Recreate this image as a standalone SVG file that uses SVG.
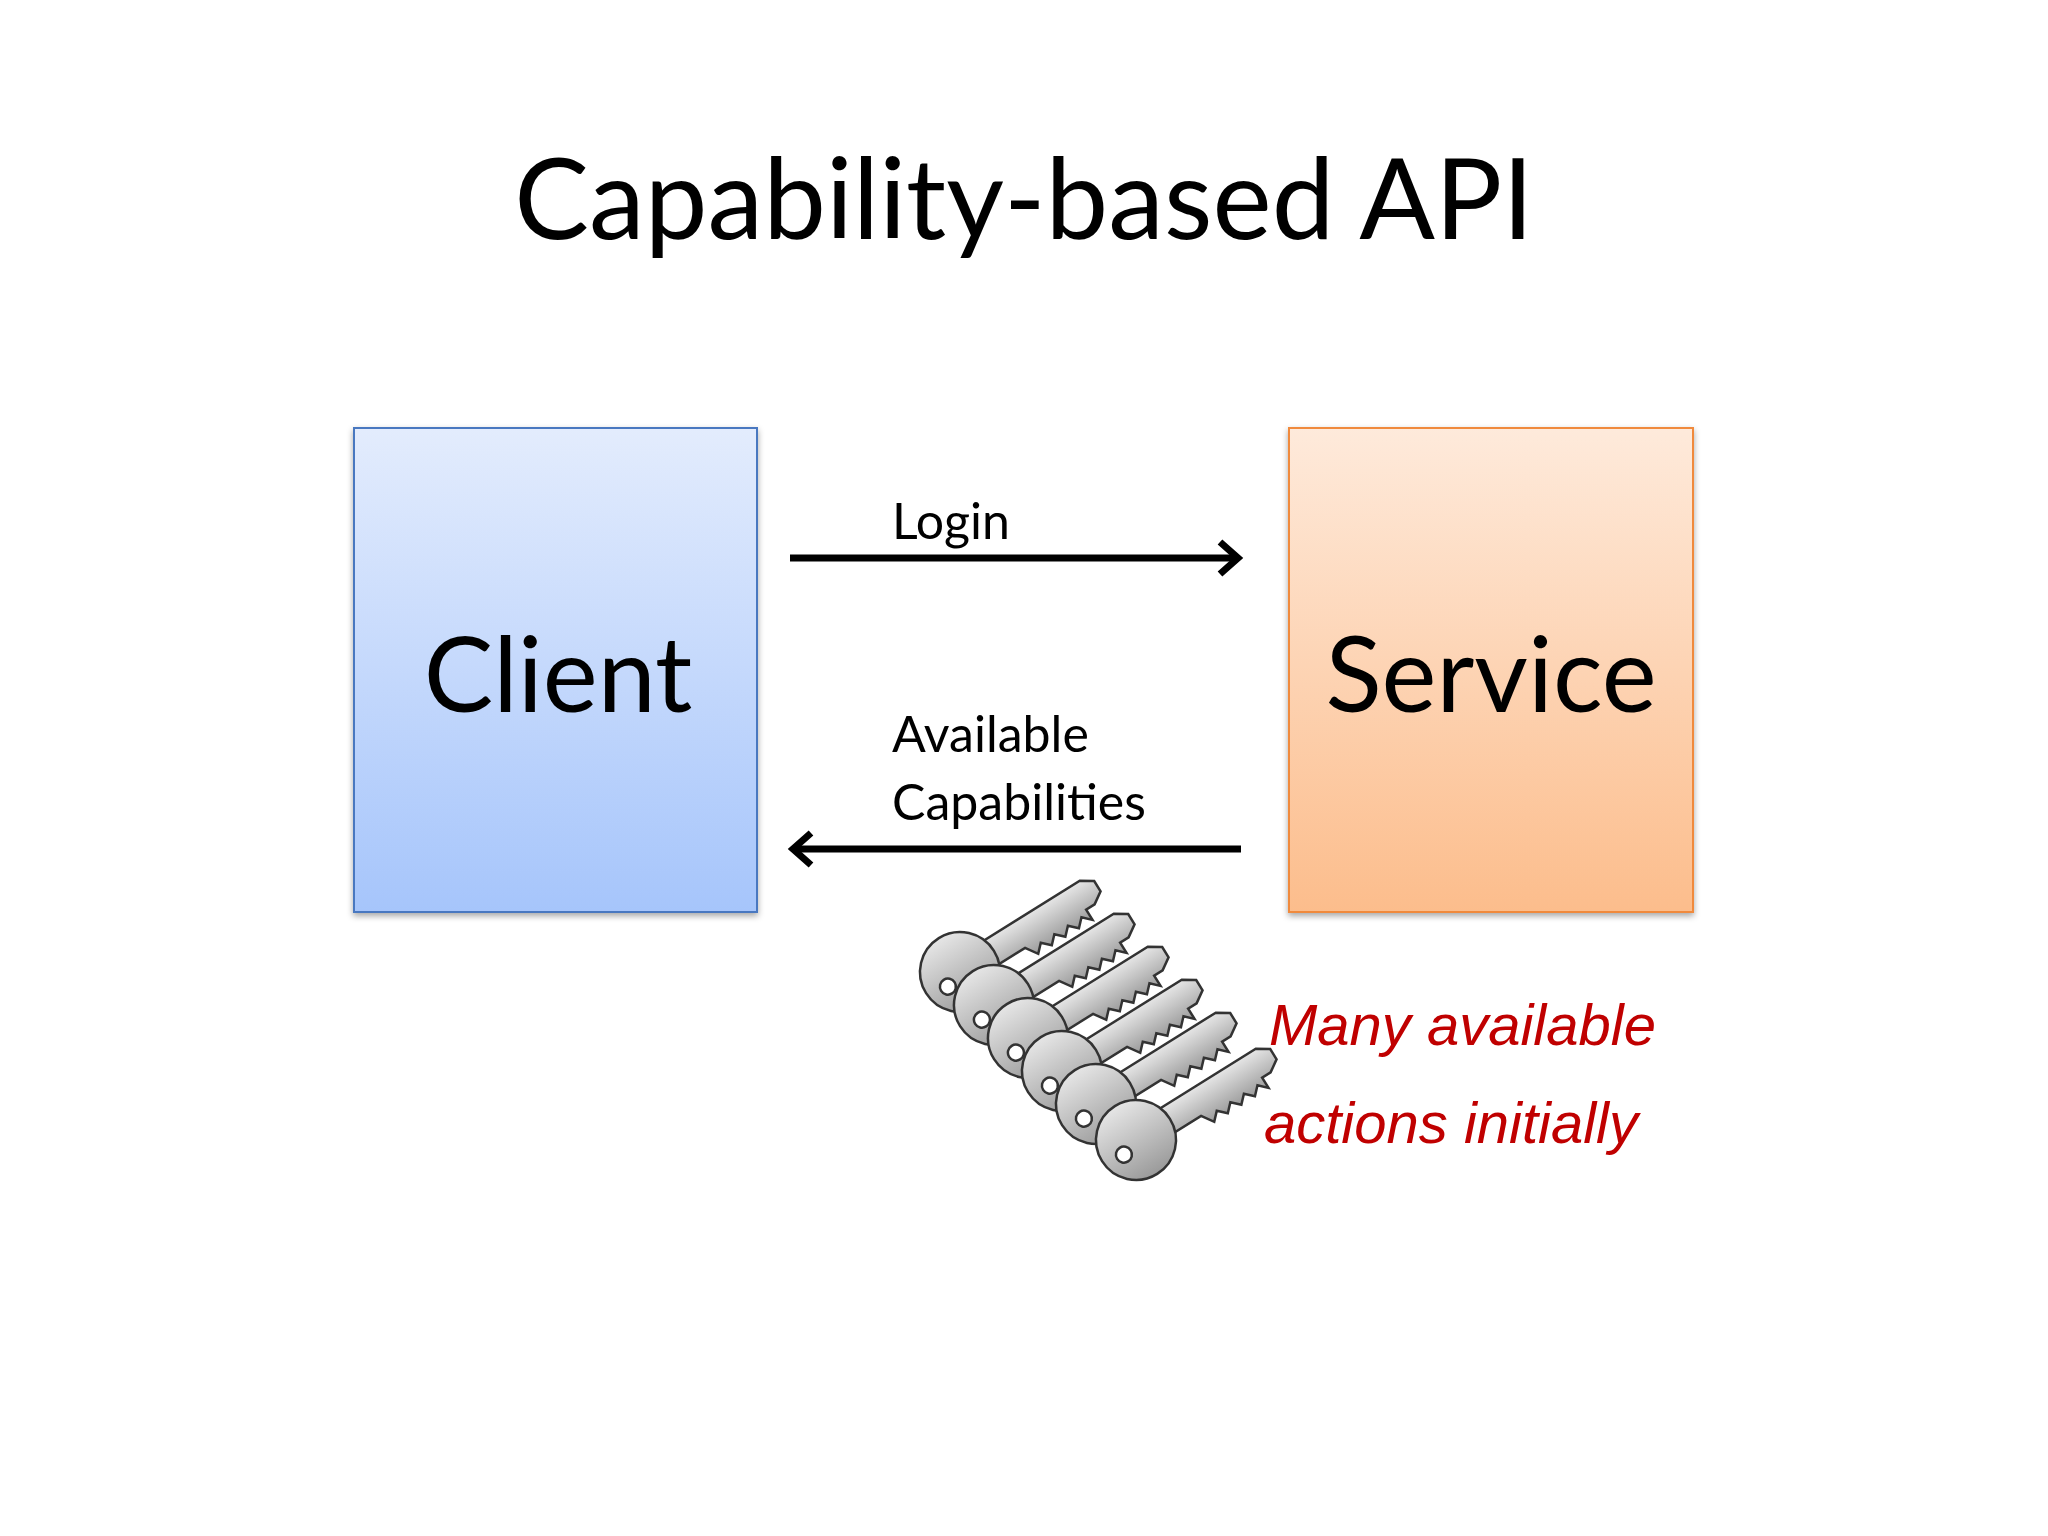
<svg xmlns="http://www.w3.org/2000/svg" width="2048" height="1536" viewBox="0 0 2048 1536">
<defs>
<linearGradient id="gb" x1="0" y1="0" x2="0" y2="1"><stop offset="0" stop-color="#e3ecfd"/><stop offset="1" stop-color="#a6c5fb"/></linearGradient>
<linearGradient id="go" x1="0" y1="0" x2="0" y2="1"><stop offset="0" stop-color="#feeadb"/><stop offset="1" stop-color="#fcbd8c"/></linearGradient>
<linearGradient id="gk" x1="0" y1="0" x2="0" y2="1"><stop offset="0" stop-color="#e6e6e6"/><stop offset="1" stop-color="#9a9a9a"/></linearGradient>
<filter id="sh"><feDropShadow dx="0" dy="3" stdDeviation="3" flood-opacity="0.35"/></filter>
<g id="key">
<path d="M20,-14 L150,-14 L162,-6 L162,6 L150,14 L140,14 L140,26 L132,18 L124,26 L116,18 L108,26 L100,18 L92,26 L84,18 L76,26 L68,14 L20,14 Z" fill="url(#gk)" stroke="#333" stroke-width="2.5"/>
<circle cx="0" cy="0" r="40" fill="url(#gk)" stroke="#333" stroke-width="2.5"/>
<circle cx="-18" cy="6" r="8" fill="#fff" stroke="#333" stroke-width="2.5"/>
</g>
</defs>
<style>
text{font-family:"Gill Sans","Lato","Liberation Sans",sans-serif;fill:#000}
.lbl{font-size:50px}
.big{font-size:104px}
.red{font-family:"Comic Sans MS","Liberation Sans",sans-serif;fill:#c00000;font-size:58px;font-style:italic}
.ln{stroke:#000;stroke-width:7;fill:none}
</style>
<rect width="2048" height="1536" fill="#fff"/>
<text x="1024" y="239" text-anchor="middle" font-size="112">Capability-based API</text>
<g id="client"><rect x="354" y="428" width="403" height="484" fill="url(#gb)" stroke="#4a78c0" stroke-width="2" filter="url(#sh)"/><text class="big" x="558" y="712" text-anchor="middle">Client</text></g>
<g id="service"><rect x="1289" y="428" width="404" height="484" fill="url(#go)" stroke="#f08a3c" stroke-width="2" filter="url(#sh)"/><text class="big" x="1491" y="712" text-anchor="middle">Service</text></g>
<g id="connectors">
<path class="ln" d="M790,558 L1236,558"/><path class="ln" d="M1220,542 L1238,558 L1220,574"/>
<path class="ln" d="M1241,849 L795,849"/><path class="ln" d="M811,833 L793,849 L811,865"/>
<text class="lbl" x="892" y="539">Login</text>
<text class="lbl" x="892" y="752">Available</text>
<text class="lbl" x="892" y="820">Capabilities</text>
</g>
<g id="keys">
<use href="#key" transform="translate(960,972) rotate(-32)"/>
<use href="#key" transform="translate(994,1005) rotate(-32)"/>
<use href="#key" transform="translate(1028,1038) rotate(-32)"/>
<use href="#key" transform="translate(1062,1071) rotate(-32)"/>
<use href="#key" transform="translate(1096,1104) rotate(-32)"/>
<use href="#key" transform="translate(1136,1140) rotate(-32)"/>
</g>
<text class="red" x="1269" y="1045">Many available</text>
<text class="red" x="1264" y="1143">actions initially</text>
</svg>
